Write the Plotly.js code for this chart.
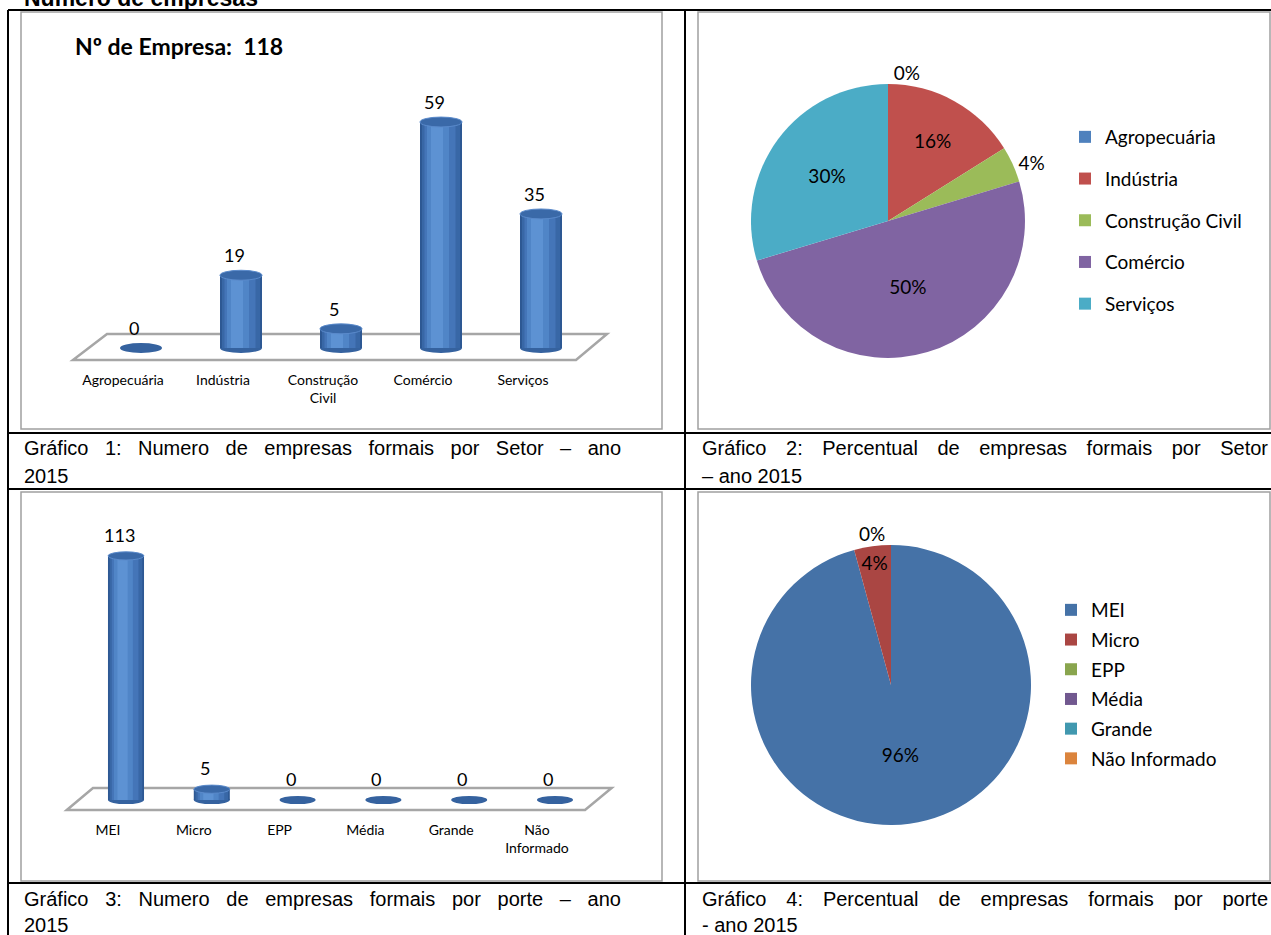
<!DOCTYPE html>
<html>
<head>
<meta charset="utf-8">
<script src="https://cdn.plot.ly/plotly-3.0.1.min.js"></script>
<style>
html,body{margin:0;padding:0;background:#fff;overflow:hidden;}
#chart{width:1271px;height:935px;}
</style>
</head>
<body>
<div id="chart"></div>
<script>
// ---------- data ----------
const setores = ['Agropecuária', 'Indústria', 'Construção Civil', 'Comércio', 'Serviços'];
const setoresTick = ['Agropecuária', 'Indústria', 'Construção<br>Civil', 'Comércio', 'Serviços'];
const empresasSetor = [0, 19, 5, 59, 35];
const coresSetor = ['#4F81BD', '#C0504D', '#9BBB59', '#8064A2', '#4BACC6'];

const portes = ['MEI', 'Micro', 'EPP', 'Média', 'Grande', 'Não Informado'];
const portesTick = ['MEI', 'Micro', 'EPP', 'Média', 'Grande', 'Não<br>Informado'];
const empresasPorte = [113, 5, 0, 0, 0, 0];
const coresPorte = ['#4572A7', '#AA4643', '#89A54E', '#71588F', '#4198AF', '#DB843D'];

const titulo = 'Número de empresas';
const caption1 = ['Gráfico 1: Numero de empresas formais por Setor – ano', '2015'];
const caption2 = ['Gráfico 2: Percentual de empresas formais por Setor', '– ano 2015'];
const caption3 = ['Gráfico 3: Numero de empresas formais por porte – ano', '2015'];
const caption4 = ['Gráfico 4: Percentual de empresas formais por porte', '- ano 2015'];

// ---------- helpers ----------
const W = 1271, H = 935;
const px = x => x / W;
const py = y => 1 - y / H;
const FONT = 'Lato, "Open Sans", sans-serif';
const CAPFONT = '"Liberation Sans Narrow", "Liberation Sans", Arial, sans-serif';
const CAPSIZE = 20;

const traces = [];
const shapes = [];
const annotations = [];

// floors (drawn first, beneath everything)
shapes.push({type: 'path', xref: 'x', yref: 'y', layer: 'below',
  path: 'M -0.68,-3.13 L -0.34,3.66 L 4.66,3.66 L 4.35,-3.13 Z',
  fillcolor: '#FFFFFF', line: {color: '#A6A6A6', width: 2.5}});
shapes.push({type: 'path', xref: 'x2', yref: 'y2', layer: 'below',
  path: 'M -0.69,-4.63 L -0.385,5.56 L 5.66,5.56 L 5.35,-4.63 Z',
  fillcolor: '#FFFFFF', line: {color: '#A6A6A6', width: 2.5}});

// cylinder layers (width, colour, offset)
const layers = [
  {w: 0.42, c: '#2D5893', o: null},
  {w: 0.38, c: '#3867A6', o: null},
  {w: 0.31, c: '#4475B8', o: -0.165},
  {w: 0.22, c: '#5085C7', o: -0.14},
  {w: 0.12, c: '#5D92D3', o: -0.10}
];

function cylinderChart(xa, ya, cats, vals, ellH, labelShiftY) {
  const idx = cats.map((_, i) => i);
  layers.forEach(L => {
    const t = {
      type: 'bar', x: idx, y: vals, width: L.w,
      marker: {color: L.c, line: {width: 0}, opacity: 1},
      xaxis: xa, yaxis: ya, showlegend: false, hoverinfo: 'skip'
    };
    if (L.o !== null) t.offset = L.o;
    traces.push(t);
  });
  vals.forEach((v, i) => {
    // base ellipse (rounded bottom / flat disc for zero values)
    shapes.push({type: 'circle', xref: xa, yref: ya, layer: 'below',
      x0: i - 0.21, x1: i + 0.21, y0: -ellH, y1: ellH,
      fillcolor: '#35629F', line: {width: 0}});
    if (v > 0) {
      shapes.push({type: 'circle', xref: xa, yref: ya, layer: 'above',
        x0: i - 0.21, x1: i + 0.21, y0: v - ellH, y1: v + ellH,
        fillcolor: '#3A69A8', line: {color: '#5A8ACB', width: 1}});
    }
    annotations.push({xref: xa, yref: ya, x: i, y: v, text: String(v),
      showarrow: false, xshift: -7, yshift: labelShiftY,
      font: {family: FONT, size: 18, color: '#000'}});
  });
}

cylinderChart('x', 'y', setores, empresasSetor, 1.3, 20);
cylinderChart('x2', 'y2', portes, empresasPorte, 1.9, 21);

// ---------- pies ----------
traces.push({
  type: 'pie', labels: setores, values: empresasSetor,
  marker: {colors: coresSetor, line: {width: 0}},
  sort: false, direction: 'clockwise', rotation: 0,
  domain: {x: [px(751), px(1025)], y: [py(358), py(84)]},
  texttemplate: '%{percent:.0%}',
  textposition: ['outside', 'inside', 'outside', 'inside', 'inside'],
  insidetextorientation: 'horizontal',
  textfont: {family: FONT, size: 19, color: '#000'},
  outsidetextfont: {family: FONT, size: 19, color: '#000'},
  showlegend: false, hoverinfo: 'label+value+percent'
});
traces.push({
  type: 'pie', labels: portes, values: empresasPorte,
  marker: {colors: coresPorte, line: {width: 0}},
  sort: false, direction: 'clockwise', rotation: 0,
  domain: {x: [px(751), px(1031)], y: [py(825), py(545)]},
  texttemplate: '%{percent:.0%}',
  textposition: ['inside', 'inside', 'outside', 'none', 'none', 'none'],
  insidetextorientation: 'horizontal',
  textfont: {family: FONT, size: 19, color: '#000'},
  outsidetextfont: {family: FONT, size: 19, color: '#000'},
  showlegend: false, hoverinfo: 'label+value+percent'
});

// legend entries (one group per category so the spacing can be set)
setores.forEach((s, i) => traces.push({
  type: 'scatter', mode: 'markers', x: [null], y: [null], name: s,
  marker: {symbol: 'square', size: 12, color: coresSetor[i]},
  legend: 'legend', legendgroup: 'setor' + i, showlegend: true,
  xaxis: 'x', yaxis: 'y', hoverinfo: 'skip'
}));
portes.forEach((s, i) => traces.push({
  type: 'scatter', mode: 'markers', x: [null], y: [null], name: s,
  marker: {symbol: 'square', size: 12, color: coresPorte[i]},
  legend: 'legend2', legendgroup: 'porte' + i, showlegend: true,
  xaxis: 'x2', yaxis: 'y2', hoverinfo: 'skip'
}));

// ---------- table grid & frames ----------
const black = {color: '#000', width: 2};
[[8, 10, 1271, 10], [8, 433, 1271, 433], [8, 489, 1271, 489], [8, 883, 1271, 883],
 [8, 10, 8, 935], [685, 10, 685, 935]].forEach(l => shapes.push({
  type: 'line', xref: 'paper', yref: 'paper', layer: 'above',
  x0: px(l[0]), y0: py(l[1]), x1: px(l[2]), y1: py(l[3]), line: black}));
[[21, 12, 662, 429], [698, 12, 1270, 429], [21, 492, 662, 881], [698, 492, 1270, 881]]
 .forEach(r => shapes.push({
  type: 'rect', xref: 'paper', yref: 'paper', layer: 'below',
  x0: px(r[0]), y0: py(r[3]), x1: px(r[2]), y1: py(r[1]),
  line: {color: '#A0A0A0', width: 1.5}, fillcolor: 'rgba(0,0,0,0)'}));

// ---------- texts ----------
annotations.push({xref: 'paper', yref: 'paper', x: px(22), y: py(-2), xanchor: 'left', yanchor: 'middle',
  text: titulo, showarrow: false,
  font: {family: '"Liberation Sans", Arial, sans-serif', size: 23, color: '#000', weight: 'bold'}});
const total = empresasSetor.reduce((a, b) => a + b, 0);
annotations.push({xref: 'paper', yref: 'paper', x: px(73), y: py(46), xanchor: 'left', yanchor: 'middle',
  text: 'Nº de Empresa:  ' + total, showarrow: false,
  font: {family: FONT, size: 23, color: '#000', weight: 'bold'}});

// justified first caption lines: word spacing computed from measured text width
const ctx = document.createElement('canvas').getContext('2d');
function wordSpacing(text, target) {
  ctx.font = CAPSIZE + 'px ' + CAPFONT;
  const w = ctx.measureText(text).width;
  const n = (text.match(/ /g) || []).length;
  return Math.max(0, (target - w) / n);
}
function caption(lines, x, y1, y2, target) {
  const ws = wordSpacing(lines[0], target).toFixed(2);
  annotations.push({xref: 'paper', yref: 'paper', x: px(x), y: py(y1), xanchor: 'left', yanchor: 'middle',
    text: '<span style="word-spacing:' + ws + 'px">' + lines[0] + '</span>', showarrow: false,
    font: {family: CAPFONT, size: CAPSIZE, color: '#000'}});
  annotations.push({xref: 'paper', yref: 'paper', x: px(x), y: py(y2), xanchor: 'left', yanchor: 'middle',
    text: lines[1], showarrow: false, font: {family: CAPFONT, size: CAPSIZE, color: '#000'}});
}
caption(caption1, 22, 448, 476, 597);
caption(caption2, 700, 448, 476, 566);
caption(caption3, 22, 899, 925, 597);
caption(caption4, 700, 899, 925, 566);

// ---------- layout ----------
const axisX = {showgrid: false, zeroline: false, showline: false, ticks: '',
  tickfont: {family: FONT, size: 14, color: '#000'}, fixedrange: true};
const layout = {
  width: W, height: H,
  margin: {l: 0, r: 0, t: 0, b: 0},
  paper_bgcolor: '#fff', plot_bgcolor: 'rgba(0,0,0,0)',
  barmode: 'overlay',
  showlegend: true,
  uniformtext: {mode: 'show', minsize: 19},
  xaxis: Object.assign({}, axisX, {domain: [px(41), px(641)], range: [-1, 5],
    tickvals: setores.map((_, i) => i - 0.18), ticktext: setoresTick, anchor: 'y'}),
  yaxis: {domain: [py(370), py(99)], range: [(348 - 370) / 3.83, (348 - 99) / 3.83],
    visible: false, fixedrange: true, anchor: 'x'},
  xaxis2: Object.assign({}, axisX, {domain: [px(40.2), px(640.8)], range: [-1, 6],
    tickvals: portes.map((_, i) => i - 0.21), ticktext: portesTick, anchor: 'y2'}),
  yaxis2: {domain: [py(820), py(520)], range: [(800 - 820) / 2.16, (800 - 520) / 2.16],
    visible: false, fixedrange: true, anchor: 'x2'},
  legend: {x: px(1065), xanchor: 'left', y: py(118), yanchor: 'top',
    font: {family: FONT, size: 19, color: '#000'}, tracegroupgap: 14,
    bgcolor: 'rgba(0,0,0,0)', itemclick: false, itemdoubleclick: false},
  legend2: {x: px(1051), xanchor: 'left', y: py(591), yanchor: 'top',
    font: {family: FONT, size: 19, color: '#000'}, tracegroupgap: 2,
    bgcolor: 'rgba(0,0,0,0)', itemclick: false, itemdoubleclick: false},
  shapes: shapes,
  annotations: annotations
};

Plotly.newPlot('chart', traces, layout, {displayModeBar: false, responsive: false});
</script>
</body>
</html>
